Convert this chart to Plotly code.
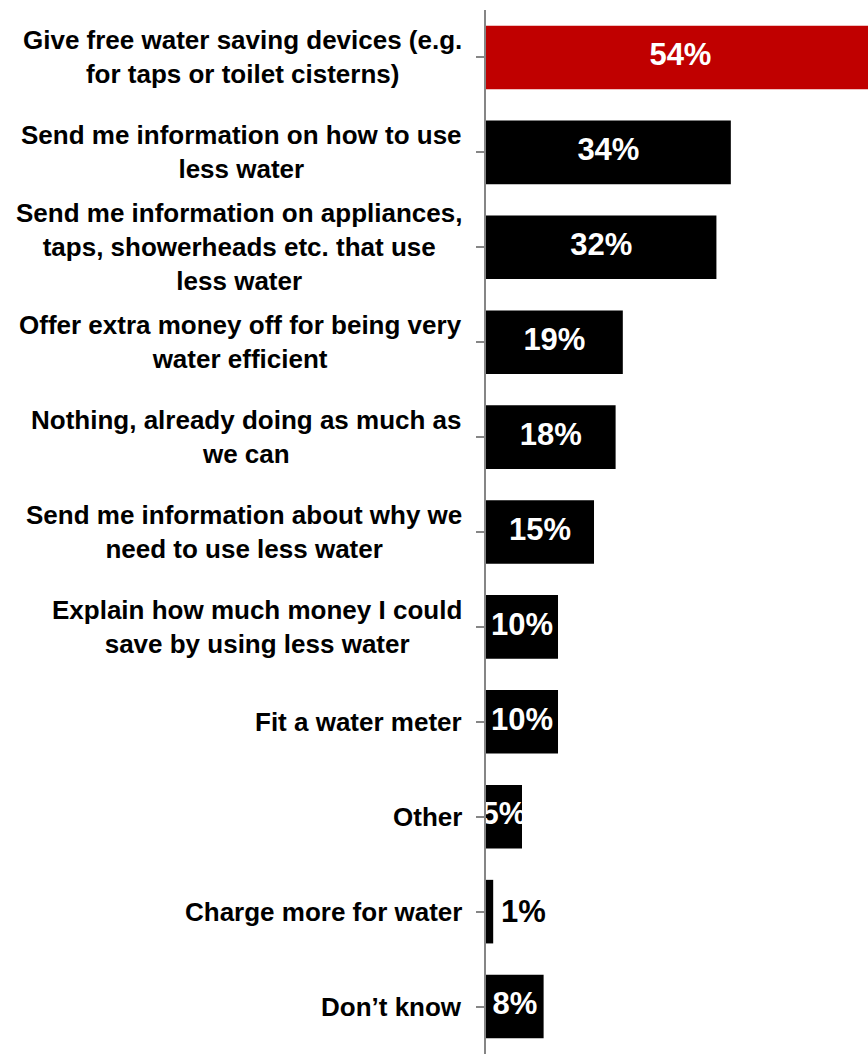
import plotly.graph_objects as go

# Survey responses: what would help people use less water
categories = [
    "Give free water saving devices (e.g.<br>for taps or toilet cisterns)",
    "Send me information on how to use<br>less water",
    "Send me information on appliances,<br>taps, showerheads etc. that use<br>less water",
    "Offer extra money off for being very<br>water efficient",
    "Nothing, already doing as much as<br>we can",
    "Send me information about why we<br>need to use less water",
    "Explain how much money I could<br>save by using less water",
    "Fit a water meter",
    "Other",
    "Charge more for water",
    "Don\u2019t know",
]
values = [54, 34, 32, 19, 18, 15, 10, 10, 5, 1, 8]
value_labels = ["54%", "34%", "32%", "19%", "18%", "15%", "10%", "10%", "5%", "1%", "8%"]

FONT = "Liberation Sans, Arial, sans-serif"
HIGHLIGHT = "#C00000"
BAR = "#000000"
AXIS_GREY = "#868686"

ids = list(range(len(categories)))
colors = [HIGHLIGHT if i == 0 else BAR for i in ids]

fig = go.Figure()
fig.add_trace(go.Bar(
    x=values, y=ids, orientation="h",
    marker=dict(color=colors, line=dict(width=0)),
    width=0.67, hoverinfo="skip", showlegend=False,
))

# Value labels: centred in the bar (white); tiny bars get a dark label beside them
inside = [(v / 2, i, t) for v, i, t in zip(values, ids, value_labels) if v >= 2]
outside = [(v, i, t) for v, i, t in zip(values, ids, value_labels) if v < 2]

fig.add_trace(go.Scatter(
    x=[p[0] for p in inside], y=[p[1] for p in inside], text=[p[2] for p in inside],
    mode="text", textposition="middle center",
    textfont=dict(family=FONT, size=31, color="white", weight="bold"),
    hoverinfo="skip", showlegend=False, cliponaxis=True,
))
for v, i, t in outside:
    fig.add_annotation(
        x=v, y=i, xref="x", yref="y", text=t, showarrow=False,
        xanchor="left", yanchor="middle", xshift=6,
        font=dict(family=FONT, size=31, color="black", weight="bold"),
    )

# Category labels, centred line by line and right-aligned against the axis
for i, c in zip(ids, categories):
    fig.add_annotation(
        x=0, xref="paper", y=i, yref="y", text=c, showarrow=False,
        xanchor="right", yanchor="middle", align="center", xshift=-22,
        font=dict(family=FONT, size=26, color="black", weight="bold"),
    )

fig.update_layout(
    width=868, height=1054,
    margin=dict(l=486, r=0, t=10, b=0),
    paper_bgcolor="white", plot_bgcolor="white",
    xaxis=dict(range=[0, 53.05], visible=False, fixedrange=True),
    yaxis=dict(
        range=[len(categories) - 0.5, -0.5],
        tickmode="array", tickvals=ids, ticktext=[""] * len(ids),
        tickson="boundaries", ticks="outside", ticklen=8, tickwidth=2,
        tickcolor=AXIS_GREY, showline=True, linecolor=AXIS_GREY, linewidth=2,
        showgrid=False, zeroline=False, showticklabels=False,
    ),
)

fig.write_html("out.html")
